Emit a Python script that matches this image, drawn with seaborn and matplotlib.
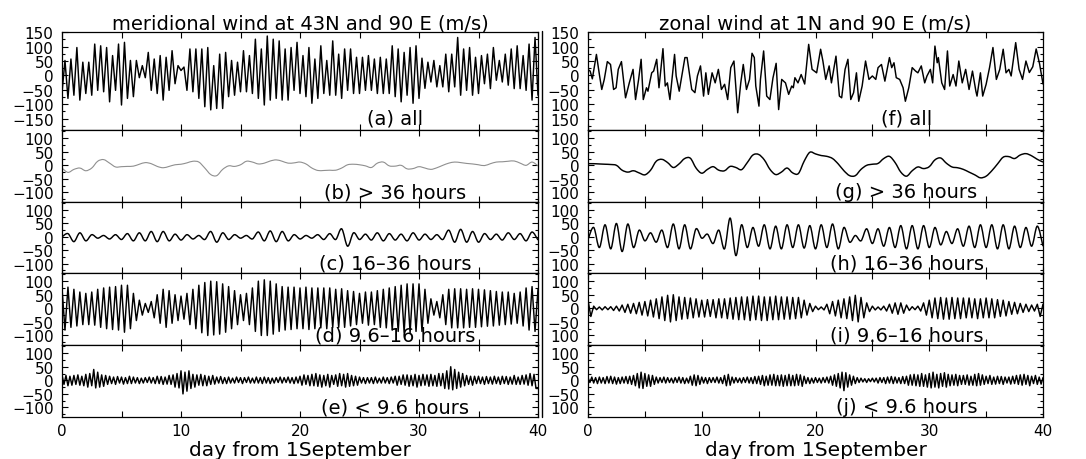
import numpy as np
import pandas as pd
import matplotlib
matplotlib.use("Agg")
import matplotlib.pyplot as plt
from matplotlib.lines import Line2D
from matplotlib.path import Path
from matplotlib.patches import PathPatch
from matplotlib.ticker import FixedLocator, MultipleLocator
import seaborn as sns

# ---------------------------------------------------------------- data
# meridional wind at 43N, 90E (m/s); alternating extrema, 6-hourly
meridional_all = [
    -60,
    52, -80, 57, -69, 97, -86, 46, -63, 46, -69, 109, -52, 103, -57, 97, -92,
    69, -52, 109, -103, 115, -80, 52, -74, 52, -8, 34, -8, 80, -52, 57, -63,
    69, -86, 63, -52, 86, -29, 34, 17, 29, -52, 92, -57, 92, -80, 92, -109,
    97, -120, 34, -115, 74, -115, 80, -74, 52, -69, 46, -57, 86, -57, 69, -63,
    126, -80, 92, -103, 137, -86, 126, -80, 120, -86, 92, -86, 97, -52, 115, -63,
    69, -74, 97, -97, 57, -80, 103, -63, 52, -69, 120, -69, 74, -80, 92, -52,
    92, -63, 63, -63, 63, -52, 69, -52, 57, -63, 63, -63, 57, -63, 103, -74,
    92, -92, 80, -69, 97, -97, 103, -80, 60, -45, 46, -23, 52, -40, 34, -40,
    74, -57, 74, -40, 132, -69, 92, -52, 97, -69, 63, -63, 69, -29, 74, -46,
    97, -17, 52, -23, 74, -34, 92, -46, 103, -46, 69, -52, 109, -86, 132, -69,
]
# > 36 hours, 12-hourly
meridional_low = [
    -10, -26, -15, -10, -20, -10, 15, 21, 8, -6, -5, -4, -3, 4, 10, 6, -4, -9,
    -4, 2, 4, 9, 15, 12, -10, -34, -38, -15, -2, -4, 2, 15, 12, 5, 8, 16, 20,
    15, 8, 9, 12, 5, -10, -19, -19, -18, -18, -10, 2, 4, 2, -2, -8, 8, 12, -2,
    -3, 0, -13, -12, -5, -10, -15, -9, 0, 8, 12, 10, 7, 5, 2, -1, 6, 12, 13,
    15, 16, 8, 0, 12, -2,
]
# 16-36 hours, 12-hourly extrema
meridional_diurnal = [
    0,
    12, -18, 15, -15, 8, -5, 5, -8, 8, -10, 12, -15, 15, -15, 20, -18,
    20, -15, 10, -12, 8, -8, 5, -10, 20, -20, 15, -10, 8, -5, 5, -8,
    18, -15, 22, -18, 20, -15, 8, -8, 5, -5, 8, -10, 12, -10, 30, -35,
    15, -10, 10, -12, 15, -15, 12, -12, 10, -15, 15, -12, 10, -10, 8, -10,
    25, -20, 28, -20, 20, -20, 12, -10, 10, -12, 15, -10, 12, -15, 18, -12,
]
# 9.6-16 hours, 6-hourly extrema
meridional_semi = [
    75, -80, 78, -70, 70, -65, 60, -60, 55, -60, 60, -62, 70, -70, 75, -75,
    78, -78, 80, -80, 85, -88, 85, -75, 55, -45, 30, -25, 18, -15, 25, -35,
    50, -55, 70, -70, 65, -55, 50, -45, 45, -40, 55, -60, 70, -75, 85, -90,
    95, -100, 100, -98, 98, -95, 90, -88, 80, -75, 65, -60, 50, -45, 55, -60,
    75, -85, 100, -100, 105, -100, 100, -95, 90, -85, 80, -80, 78, -78, 78, -75,
    75, -75, 78, -78, 75, -75, 75, -72, 75, -75, 75, -70, 70, -70, 72, -70,
    65, -65, 62, -60, 55, -55, 60, -62, 60, -60, 65, -70, 70, -72, 75, -80,
    80, -85, 85, -88, 90, -90, 90, -85, 90, -85, 70, -55, 35, -25, 25, -35,
    50, -60, 70, -72, 72, -72, 72, -72, 70, -70, 72, -70, 70, -68, 68, -66,
    65, -65, 62, -62, 60, -60, 60, -58, 55, -55, 60, -65, 75, -80, 80, -85,
    70,
]
# < 9.6 hours, 4-hourly extrema
meridional_high = [
    20, -15, 18, -20, 15, -18, 18, -15, 20, -18, 15, -20,
    22, -25, 25, -20, 40, -28, 30, -25, 20, -22, 18, -15,
    15, -12, 12, -15, 14, -10, 12, -14, 10, -12, 15, -12,
    12, -10, 10, -12, 8, -10, 10, -8, 12, -10, 10, -12,
    15, -12, 14, -15, 12, -14, 18, -15, 20, -25, 25, -28,
    35, -50, 30, -40, 35, -30, 22, -25, 20, -18, 22, -20,
    18, -20, 15, -15, 18, -14, 12, -10, 14, -12, 10, -12,
    12, -10, 8, -10, 12, -8, 10, -12, 10, -8, 12, -10,
    8, -10, 12, -10, 10, -12, 12, -10, 10, -12, 8, -10,
    10, -8, 12, -10, 10, -8, 12, -10, 10, -12, 12, -10,
    15, -18, 20, -15, 18, -20, 22, -20, 25, -22, 20, -25,
    18, -20, 22, -25, 18, -15, 20, -22, 25, -20, 22, -25,
    25, -22, 18, -20, 15, -18, 12, -10, 10, -12, 10, -10,
    10, -12, 12, -10, 8, -10, 12, -10, 10, -12, 12, -10,
    15, -18, 15, -15, 20, -18, 20, -22, 18, -20, 22, -25,
    18, -20, 22, -18, 20, -22, 22, -20, 18, -22, 25, -20,
    25, -30, 35, -32, 50, -35, 40, -30, 30, -25, 25, -20,
    18, -15, 15, -18, 15, -12, 15, -12, 12, -15, 14, -12,
    12, -14, 15, -12, 12, -15, 15, -12, 14, -15, 12, -14,
    18, -15, 12, -15, 18, -14, 20, -18, 25, -20, 22, -30,
    -30,
]

# zonal wind at 1N, 90E (m/s): turning points of the full signal
zonal_all_day = [
    0.0, 0.19, 0.38, 0.74, 1.02, 1.21, 1.43, 1.70, 1.98, 2.25,
    2.47, 2.66, 2.94, 3.30, 3.63, 3.96, 4.18, 4.45, 4.67, 4.86,
    5.14, 5.27, 5.60, 5.77, 6.04, 6.24, 6.59, 6.79, 6.98, 7.20,
    7.61, 7.75, 8.02, 8.52, 8.71, 9.12, 9.40, 9.62, 9.89, 10.16,
    10.36, 10.58, 10.91, 11.18, 11.46, 11.73, 12.01, 12.28, 12.55, 12.83,
    13.16, 13.43, 13.65, 13.93, 14.20, 14.42, 14.62, 14.75, 15.03, 15.16,
    15.44, 15.71, 15.99, 16.26, 16.54, 16.76, 17.03, 17.36, 17.64, 17.91,
    18.05, 18.19, 18.46, 18.74, 19.05, 19.4, 19.7, 20.1, 20.45, 20.65,
    20.9, 21.2, 21.4, 21.8, 22.1, 22.3, 22.6, 22.85, 23.1, 23.35,
    23.6, 23.8, 24.1, 24.4, 24.7, 25.0, 25.3, 25.5, 25.8, 26.1,
    26.5, 26.7, 26.9, 27.1, 27.4, 27.7, 27.9, 28.2, 28.5, 28.8,
    29.0, 29.3, 29.6, 29.8, 30.1, 30.3, 30.5, 30.7, 30.8, 31.1,
    31.35, 31.6, 31.8, 32.1, 32.35, 32.6, 32.9, 33.2, 33.5, 33.8,
    34.1, 34.2, 34.5, 34.7, 35.0, 35.3, 35.6, 35.9, 36.2, 36.5,
    36.75, 37.0, 37.2, 37.6, 37.9, 38.2, 38.5, 38.8, 39.1, 39.4,
    39.7, 40.0,
]
zonal_all = [
    20, 15, -12, 73, -2, -49, -14, 48, 38, -49,
    -43, 21, 48, -78, -26, 21, -84, -14, 56, -84,
    -43, -55, 9, 15, 56, -43, 93, -37, -26, -84,
    73, -2, -55, 62, 62, -49, -60, -2, 33, -72,
    9, -66, 9, -26, 21, -49, -31, -84, 27, 50,
    -130, -26, 38, -49, -14, 77, 62, -37, -107, -14,
    85, -72, -84, -9, 42, -119, -14, -26, -66, -37,
    -43, -8, -26, 3, -30, 108, 21, 9, 91, 50,
    -14, 33, -26, 67, -72, -78, 21, 56, -84, -60,
    9, -90, -37, 50, -14, -2, -14, 27, 38, -20,
    62, 27, 44, -8, -14, -43, -90, -43, 27, 15,
    9, 33, -26, -2, 21, -26, 102, 44, 62, -26,
    -49, 85, -37, 3, -37, 50, -26, 21, -49, 15,
    -55, -72, 9, -72, -31, 27, 97, -14, 21, 91,
    9, 21, -2, 114, 21, -14, 50, 10, 30, 92,
    40, -30,
]
# > 36 hours, 12-hourly
zonal_low = [
    6, 6, 5, 4, 3, 0, -18, -25, -20, -28, -35, -18, 15, 22, 10, -8, 5, 25,
    26, -10, -29, -15, -5, -18, -20, -4, -8, -16, 10, 38, 40, 20, -15, -34,
    -25, -10, -28, -30, 15, 48, 42, 36, 33, 25, 5, -20, -38, -38, -15, 0, 4,
    7, 25, 33, 10, -25, -40, -20, -6, -12, -5, 20, 27, 8, -6, -9, -15, -25,
    -35, -46, -40, -20, 5, 30, 32, 25, 38, 43, 35, 22, 12,
]
# 16-36 hours, 12-hourly extrema
zonal_diurnal = [
    -10, 35, -40, 45, -45, 50, -55, 48, -40, 25, -15, 15, -20, 25, -40, 48,
    -45, 45, -45, 30, -5, 10, -25, 25, -45, 70, -70, 45, -40, 35, -35, 45,
    -45, 40, -45, 45, -40, 45, -42, 42, -45, 45, -40, 48, -45, 35, -20, 5,
    -15, 30, -25, 30, -35, 35, -40, 42, -45, 42, -45, 42, -40, 35, -30, 20,
    -25, 30, -35, 40, -40, 45, -40, 45, -45, 45, -45, 40, -40, 35, -35, 40,
    -35,
]
# 9.6-16 hours, 6-hourly extrema
zonal_semi = [
    30, -30, 8, -5, 5, -6, 6, -5, 6, -8, 8, -10, 12, -15, 15, -18,
    18, -20, 22, -25, 25, -28, 30, -32, 35, -38, 42, -45, 48, -50, 50, -45,
    42, -40, 40, -38, 38, -35, 35, -32, 30, -32, 32, -30, 32, -35, 35, -35,
    35, -38, 38, -40, 40, -42, 42, -42, 42, -45, 45, -42, 45, -45, 42, -45,
    42, -42, 45, -42, 42, -40, 42, -40, 40, -38, 40, -35, 30, -25, 18, -12,
    8, -5, 5, -6, 15, -20, 25, -28, 30, -35, 35, -38, 42, -45, 48, -50,
    40, -35, 20, -12, 8, -6, 5, -6, 8, -10, 15, -18, 20, -22, 20, -18,
    12, -8, 6, -5, 8, -10, 20, -25, 30, -35, 38, -38, 40, -40, 38, -40,
    40, -38, 38, -38, 38, -35, 38, -35, 35, -38, 35, -35, 38, -35, 35, -35,
    32, -30, 30, -28, 25, -22, 22, -20, 18, -15, 15, -12, 12, -10, 15, -30,
    15,
]
# < 9.6 hours, 4-hourly extrema
zonal_high = [
    10, -8, 12, -10, 10, -12, 12, -10, 10, -12, 14, -10,
    15, -12, 12, -14, 10, -12, 12, -10, 14, -12, 15, -15,
    18, -20, 25, -28, 30, -30, 25, -22, 20, -22, 18, -15,
    12, -10, 10, -8, 12, -10, 10, -8, 8, -10, 10, -8,
    12, -10, 10, -12, 8, -10, 15, -18, 20, -20, 18, -15,
    12, -10, 10, -12, 10, -8, 10, -8, 12, -10, 10, -12,
    18, -20, 22, -18, 12, -10, 10, -8, 8, -10, 10, -8,
    12, -10, 10, -12, 14, -12, 15, -15, 18, -20, 15, -18,
    20, -18, 22, -20, 18, -20, 20, -22, 18, -20, 22, -20,
    18, -20, 22, -18, 20, -22, 15, -12, 10, -12, 8, -10,
    10, -8, 8, -10, 10, -8, 12, -10, 15, -18, 20, -22,
    25, -28, 30, -38, 28, -25, 20, -18, 15, -12, 10, -8,
    8, -6, 6, -8, 6, -5, 8, -6, 8, -10, 10, -8,
    10, -12, 12, -10, 14, -12, 12, -10, 10, -12, 14, -12,
    15, -18, 20, -18, 22, -20, 20, -22, 25, -22, 20, -25,
    25, -28, 30, -25, 22, -28, 25, -22, 28, -25, 22, -20,
    20, -18, 22, -20, 18, -15, 18, -15, 20, -18, 15, -18,
    22, -20, 25, -18, 20, -15, 15, -12, 18, -15, 12, -14,
    15, -12, 14, -15, 12, -10, 12, -14, 15, -12, 18, -15,
    20, -18, 22, -15, 18, -20, 15, -12, 18, -15, 12, -14,
    10,
]

left_series = [meridional_all, meridional_low, meridional_diurnal,
               meridional_semi, meridional_high]
right_series = [zonal_all, zonal_low, zonal_diurnal, zonal_semi, zonal_high]

left_labels = ["(a) all", "(b) > 36 hours", "(c) 16–36 hours",
               "(d) 9.6–16 hours", "(e) < 9.6 hours"]
right_labels = ["(f) all", "(g) > 36 hours", "(h) 16–36 hours",
                "(i) 9.6–16 hours", "(j) < 9.6 hours"]

left_title = "meridional wind at 43N and 90 E (m/s)"
right_title = "zonal wind at 1N and 90 E (m/s)"
x_title = "day from 1September"

day_ticks = [0, 10, 20, 30, 40]

# ---------------------------------------------------------------- style
sns.set_theme(style="ticks")
plt.rcParams["font.family"] = ["DejaVu Sans"]
plt.rcParams.update({
    "axes.linewidth": 0.9,
    "text.color": "black",
    "axes.labelcolor": "black",
    "xtick.color": "black",
    "ytick.color": "black",
    "axes.edgecolor": "black",
})

W, H = 1086, 460
fig = plt.figure(figsize=(W / 100, H / 100), dpi=100)
fig.patch.set_facecolor("white")

cols = [(62, 538), (588, 1043)]
rows = [(33, 131), (131, 203), (203, 274), (274, 346), (346, 418)]

# slowly varying bands are traced with a smooth curve through the samples
smooth_rows = {1, 2}


def frame(px):
    (x0, x1), (y0, y1) = px
    return [x0 / W, 1 - y1 / H, (x1 - x0) / W, (y1 - y0) / H]


def smooth_trace(ax, x, y, **kw):
    """Cubic (Catmull-Rom) curve through every sample, in data space."""
    p = np.column_stack([x, y])
    ext = np.vstack([p[0], p, p[-1]])
    verts = [tuple(p[0])]
    codes = [Path.MOVETO]
    for i in range(len(p) - 1):
        p0, p1, p2, p3 = ext[i], ext[i + 1], ext[i + 2], ext[i + 3]
        c1 = p1 + (p2 - p0) / 6.0
        c2 = p2 - (p3 - p1) / 6.0
        verts += [tuple(c1), tuple(c2), tuple(p2)]
        codes += [Path.CURVE4] * 3
    ax.add_patch(PathPatch(Path(verts, codes), fill=False, **kw))


for c, (series, labels, title) in enumerate(
        [(left_series, left_labels, left_title),
         (right_series, right_labels, right_title)]):
    for r, (vals, lab) in enumerate(zip(series, labels)):
        ax = fig.add_axes(frame((cols[c], rows[r])))
        v = np.asarray(vals, dtype=float)
        if c == 1 and r == 0:
            days = np.asarray(zonal_all_day, dtype=float)
        else:
            days = np.linspace(0, 40, len(v))
        df = pd.DataFrame({"day": days, "wind": v})
        grey = (c == 0 and r == 1)
        colour = "#8f8f8f" if grey else "black"
        lw = 0.8 if grey else 1.05
        if r in smooth_rows:
            smooth_trace(ax, df["day"].to_numpy(), df["wind"].to_numpy(),
                         edgecolor=colour, lw=lw, joinstyle="round")
        else:
            sns.lineplot(data=df, x="day", y="wind", ax=ax, color=colour,
                         lw=lw, estimator=None, sort=False)
        ax.set_xlim(0, 40)
        if r == 0:
            ax.set_ylim(-190, 151)
            yt = [-150, -100, -50, 0, 50, 100, 150]
        else:
            ax.set_ylim(-135, 130)
            yt = [-100, -50, 0, 50, 100]
        ax.yaxis.set_major_locator(FixedLocator(yt))
        ax.yaxis.set_minor_locator(MultipleLocator(25))
        if c == 0:
            ylabs = [f"{t:d}".replace("-", "\u2212") for t in yt]
        else:
            ylabs = [(f"{abs(t):d}" if t <= -100 else f"{t:d}".replace("-", "\u2212"))
                     for t in yt]
        ax.set_yticklabels(ylabs)
        ax.xaxis.set_major_locator(FixedLocator(day_ticks))
        ax.xaxis.set_minor_locator(MultipleLocator(5))
        ax.tick_params(which="both", direction="in", top=True, right=True,
                       colors="black", labelsize=11)
        ax.tick_params(axis="y", which="both", pad=6)
        ax.tick_params(axis="x", which="both", pad=4)
        ax.tick_params(which="major", length=4, width=0.8)
        ax.tick_params(which="minor", length=4, width=0.8)
        ax.tick_params(axis="y", which="minor", length=2.5)
        for s in ax.spines.values():
            s.set_color("black")
        ax.set_ylabel("")
        if r == 4:
            ax.set_xticklabels([str(t) for t in day_ticks])
            ax.set_xlabel(x_title, fontsize=14.5, labelpad=2)
        else:
            ax.set_xticklabels([])
            ax.set_xlabel("")
        if r == 0:
            ax.set_title(title, fontsize=14, pad=2)
        ax.text(0.7, 0.03 if r == 0 else 0.01, lab, transform=ax.transAxes,
                ha="center", va="bottom", fontsize=14)

# edge of the right-hand figure block
fig.add_artist(Line2D([541.5 / W, 541.5 / W], [1 - 418 / H, 1 - 32 / H],
                      color="black", lw=1.0))

fig.savefig("out.png", dpi=100, facecolor="white")
